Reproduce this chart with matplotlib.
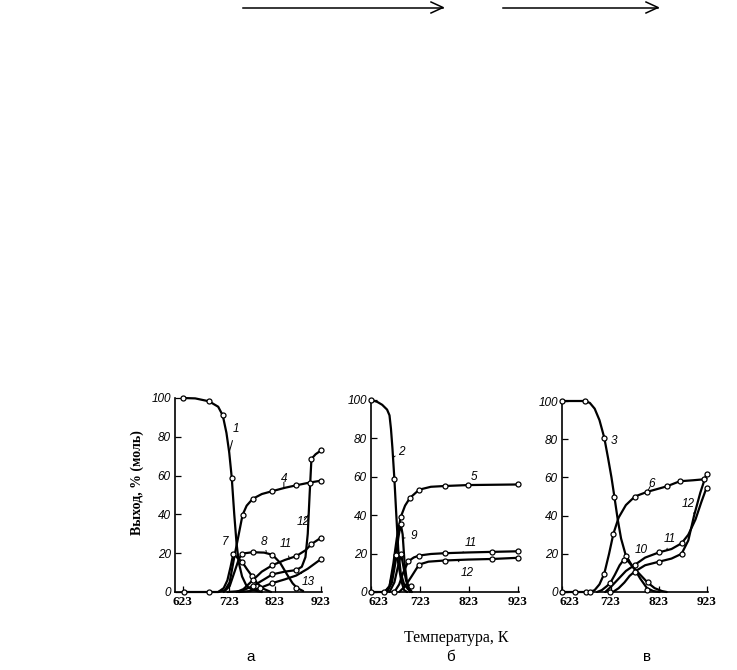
import numpy as np
import matplotlib.pyplot as plt

# ---------- panel a ----------
a1_t = [623, 650, 680, 700, 710, 718, 724, 729.5, 735, 740, 745, 752, 762, 775, 795]
a1_y = [100, 99.8, 98.3, 95.5, 91, 82, 72, 59, 40, 25, 15, 8, 3, 1, 0]
a1_mt = [623, 680, 710, 729.5]
a1_my = [100, 98.3, 91, 59]

a4_t = [625, 700, 715, 725, 735, 745, 753, 762, 775, 795, 818, 845, 870, 899, 924]
a4_y = [0, 0, 1, 5, 18, 30, 39.7, 44.5, 48, 50.5, 52, 53.7, 55, 56.4, 57.4]
a4_mt = [625, 680, 753, 775, 818, 870, 899, 924]
a4_my = [0, 0, 39.7, 48, 52, 55, 56.4, 57.4]

a7_t = [700, 712, 720, 727, 733, 740, 752, 762, 773, 785, 800, 815]
a7_y = [0, 2, 6, 13, 19.8, 18, 15.6, 12, 8.4, 4.5, 1.5, 0]
a7_mt = [733, 752, 773]
a7_my = [19.8, 15.6, 8.4]

a8_t = [712, 725, 735, 745, 752, 775, 800, 818, 835, 850, 862, 872, 885]
a8_y = [0, 3, 10, 17, 19.8, 20.5, 20.3, 19.2, 15, 9, 4.5, 2, 0.5]
a8_mt = [752, 775, 818, 870]
a8_my = [19.8, 20.5, 19.2, 2.2]

a11_t = [740, 755, 775, 795, 818, 845, 870, 890, 903, 924]
a11_y = [0, 1.5, 6, 10.5, 13.8, 16.5, 18.5, 21.5, 24.7, 28]
a11_mt = [775, 818, 870, 903, 924]
a11_my = [6, 13.8, 18.5, 24.7, 28]

a12_t = [720, 750, 775, 800, 818, 845, 870, 882, 890, 895, 899, 903, 912, 924]
a12_y = [0, 0.5, 3, 6.5, 9.1, 10.5, 11.3, 13, 18, 30, 50, 68.6, 71, 73]
a12_mt = [775, 818, 870, 903, 924]
a12_my = [3, 9.1, 11.3, 68.6, 73]

a13_t = [745, 770, 790, 818, 845, 870, 895, 924]
a13_y = [0, 0.5, 2, 4.6, 6.5, 8.5, 12, 17]
a13_mt = [790, 818, 924]
a13_my = [2, 4.6, 17]

# ---------- panel b ----------
b2_t = [623, 635, 645, 655, 660, 663, 666, 670, 674, 678, 683, 690, 698, 705]
b2_y = [100, 99, 97.5, 95, 92, 85, 75, 59, 40, 22, 10, 4, 1.5, 0]
b2_mt = [623, 670]
b2_my = [100, 59]

b5_t = [623, 650, 660, 668, 675, 683, 692, 702, 721, 745, 773, 822, 923]
b5_y = [0, 0, 3, 15, 28, 39, 45, 49, 53.3, 54.8, 55.2, 55.7, 56]
b5_mt = [623, 648, 670, 683, 702, 721, 773, 822, 923]
b5_my = [0, 0, 0, 39, 49, 53.3, 55.2, 55.7, 56]

b9_t = [655, 665, 672, 678, 683, 687, 691, 696, 702]
b9_y = [0, 5, 15, 28, 35.5, 30, 15, 5, 0]
b9_mt = [683]
b9_my = [35.5]

b7_t = [650, 660, 668, 673.7, 678, 684, 690, 696]
b7_y = [0, 3, 12, 19.5, 15, 6, 1, 0]
b7_mt = [673.7]
b7_my = [19.5]

b8_t = [660, 670, 678, 683.8, 688, 694, 700, 706]
b8_y = [0, 5, 14, 19.8, 14, 6, 2, 0]
b8_mt = [683.8, 704]
b8_my = [19.8, 3]

b11_t = [670, 680, 688, 698.7, 710, 721, 745, 773, 822, 871, 923]
b11_y = [0, 4, 10, 16, 18, 19, 19.8, 20.2, 20.6, 20.9, 21.2]
b11_mt = [698.7, 721, 773, 871, 923]
b11_my = [16, 19, 20.2, 20.9, 21.2]

b12_t = [680, 692, 705, 715, 721, 740, 773, 822, 871, 923]
b12_y = [0, 3, 8, 12, 14.3, 15.8, 16.4, 16.9, 17.2, 17.8]
b12_mt = [721, 773, 871, 923]
b12_my = [14.3, 16.4, 17.2, 17.8]

# ---------- panel c ----------
c3_t = [623, 670, 680, 690, 700, 710, 718, 725, 731, 738, 745, 755, 770, 785, 800, 815, 830, 840]
c3_y = [100, 100, 99, 96, 90, 80.8, 70, 60, 50, 38, 28, 19, 13, 9, 5, 2, 0.5, 0]
c3_mt = [623, 670, 710, 731, 755, 801]
c3_my = [100, 100, 80.8, 50, 19, 5]

c6_t = [623, 680, 690, 700, 710, 720, 729, 740, 755, 773.7, 799, 840, 867.5, 895, 917.5, 923]
c6_y = [0, 0, 1, 4, 9.6, 20, 30.5, 39, 45.5, 50, 52.4, 55.3, 58, 58.5, 59, 59.5]
c6_mt = [623, 650, 671, 681, 710, 729, 773.7, 799, 840, 867.5, 917.5]
c6_my = [0, 0, 0, 0, 9.6, 30.5, 50, 52.4, 55.3, 58, 59]

c10_t = [695, 705, 715, 722, 732, 742, 751, 760, 773, 785, 799, 812, 825]
c10_y = [0, 1, 3, 4.5, 9, 14, 17, 16, 12, 7, 2, 0.5, 0]
c10_mt = [722, 751, 799]
c10_my = [4.5, 17, 1.2]

c11_t = [712, 725, 740, 755, 773, 795, 824.6, 850, 871, 885, 900, 912, 923]
c11_y = [0, 3, 7, 11, 14.1, 18, 20.8, 22.5, 25.5, 30, 38, 47, 54.6]
c11_mt = [722, 773, 824.6, 871, 923]
c11_my = [0, 14.1, 20.8, 25.5, 54.6]

c12_t = [728, 740, 752, 763, 773, 795, 824.6, 850, 871, 885, 897, 910, 923]
c12_y = [0, 2, 5, 8.5, 10.6, 14, 15.9, 17.5, 20, 27, 40, 52, 62]
c12_mt = [773, 824.6, 871, 923]
c12_my = [10.6, 15.9, 20, 62]

x_ticks = [623, 723, 823, 923]
x_labels = ['623', '723', '823', '923']
y_ticks = [0, 20, 40, 60, 80, 100]

fig = plt.figure(figsize=(7.37, 6.7), dpi=100)
W, H = 737.0, 670.0

ax_a = fig.add_axes([175 / W, 78 / H, 147 / W, 194 / H])
ax_b = fig.add_axes([371 / W, 78 / H, 148 / W, 192 / H])
ax_c = fig.add_axes([562 / W, 78 / H, 146 / W, 191 / H])


def curve(ax, t, y, mt, my):
    ax.plot(t, y, color='black', lw=1.6, solid_capstyle='round', clip_on=False, zorder=3)
    ax.plot(mt, my, 'o', ms=3.6, mfc='white', mec='black', mew=0.9, clip_on=False, zorder=4)


def tag(ax, text, xy, xytext):
    ax.annotate(text, xy=xy, xytext=xytext, fontsize=8.5, fontstyle='italic',
                family='Liberation Sans', ha='center', va='center',
                arrowprops=dict(arrowstyle='-', lw=0.7, color='black', shrinkA=2, shrinkB=0))


def style(ax, xlim, first_shift):
    ax.set_xlim(*xlim)
    ax.set_ylim(0, 100)
    for s in ['top', 'right']:
        ax.spines[s].set_visible(False)
    for s in ['left', 'bottom']:
        ax.spines[s].set_linewidth(1.2)
    ax.set_xticks(x_ticks)
    ax.set_xticklabels([])
    ax.set_yticks(y_ticks)
    ax.tick_params(direction='in', length=4, width=0.9, pad=3)
    for lab in ax.get_yticklabels():
        lab.set_family('Liberation Sans')
        lab.set_fontstyle('italic')
        lab.set_fontsize(8.5)
    # x tick labels drawn by hand so the first one can sit a bit right of the corner
    for i, (t, s) in enumerate(zip(x_ticks, x_labels)):
        dx = first_shift if i == 0 else 0
        ax.annotate(s, xy=(t, 0), xycoords=('data', 'axes fraction'),
                    xytext=(dx, -3), textcoords='offset points', ha='center', va='top',
                    family='Liberation Serif', fontweight='bold', fontsize=9.5)


style(ax_a, (606, 926), 0)
style(ax_b, (622, 926), 5)
style(ax_c, (622, 926), 5)

curve(ax_a, a1_t, a1_y, a1_mt, a1_my)
curve(ax_a, a4_t, a4_y, a4_mt, a4_my)
curve(ax_a, a7_t, a7_y, a7_mt, a7_my)
curve(ax_a, a8_t, a8_y, a8_mt, a8_my)
curve(ax_a, a11_t, a11_y, a11_mt, a11_my)
curve(ax_a, a12_t, a12_y, a12_mt, a12_my)
curve(ax_a, a13_t, a13_y, a13_mt, a13_my)
tag(ax_a, '1', (724, 72), (738, 84))
tag(ax_a, '4', (843, 53.5), (843, 58))
tag(ax_a, '7', (733, 19), (714, 26))
tag(ax_a, '8', (805, 20.3), (800, 26))
tag(ax_a, '11', (855, 17), (847, 24.5))
tag(ax_a, '12', (897, 40), (884, 36))
tag(ax_a, '13', (880, 10), (897, 5))

curve(ax_b, b2_t, b2_y, b2_mt, b2_my)
curve(ax_b, b5_t, b5_y, b5_mt, b5_my)
curve(ax_b, b9_t, b9_y, b9_mt, b9_my)
curve(ax_b, b7_t, b7_y, b7_mt, b7_my)
curve(ax_b, b8_t, b8_y, b8_mt, b8_my)
curve(ax_b, b11_t, b11_y, b11_mt, b11_my)
curve(ax_b, b12_t, b12_y, b12_mt, b12_my)
tag(ax_b, '2', (667, 70), (684, 73))
tag(ax_b, '5', (820, 55.8), (834, 60))
tag(ax_b, '9', (688, 28), (710, 29))
tag(ax_b, '11', (810, 20.5), (827, 25.5))
tag(ax_b, '12', (800, 16.6), (820, 10))

curve(ax_c, c3_t, c3_y, c3_mt, c3_my)
curve(ax_c, c6_t, c6_y, c6_mt, c6_my)
curve(ax_c, c10_t, c10_y, c10_mt, c10_my)
curve(ax_c, c11_t, c11_y, c11_mt, c11_my)
curve(ax_c, c12_t, c12_y, c12_mt, c12_my)
tag(ax_c, '3', (716, 73), (730, 79))
tag(ax_c, '6', (800, 52.5), (808, 56.5))
tag(ax_c, '10', (760, 16.3), (786, 22))
tag(ax_c, '11', (840, 22), (846, 27.5))
tag(ax_c, '12', (897, 41), (884, 46))

fig.text(137 / W, 1 - 483 / H, 'Выход, % (моль)', rotation=90, ha='center', va='center',
         family='Liberation Serif', fontweight='bold', fontsize=10)
fig.text(456 / W, 1 - 638 / H, 'Температура, К', ha='center', va='center',
         family='Liberation Serif', fontsize=11.5)
for x, s in [(251, 'а'), (450, 'б'), (647, 'в')]:
    fig.text(x / W, 1 - 657 / H, s, ha='center', va='center',
             family='Liberation Sans', fontsize=11)

# arrows at the top
for x0, x1 in [(243, 443), (503, 658)]:
    fig.add_artist(plt.Line2D([x0 / W, x1 / W], [1 - 7.5 / H, 1 - 7.5 / H],
                              color='black', lw=1.1, transform=fig.transFigure))
    fig.add_artist(plt.Line2D([(x1 - 12) / W, x1 / W, (x1 - 12) / W],
                              [1 - 2 / H, 1 - 7.5 / H, 1 - 13 / H],
                              color='black', lw=1.1, transform=fig.transFigure))

fig.savefig('out.png', dpi=100)
